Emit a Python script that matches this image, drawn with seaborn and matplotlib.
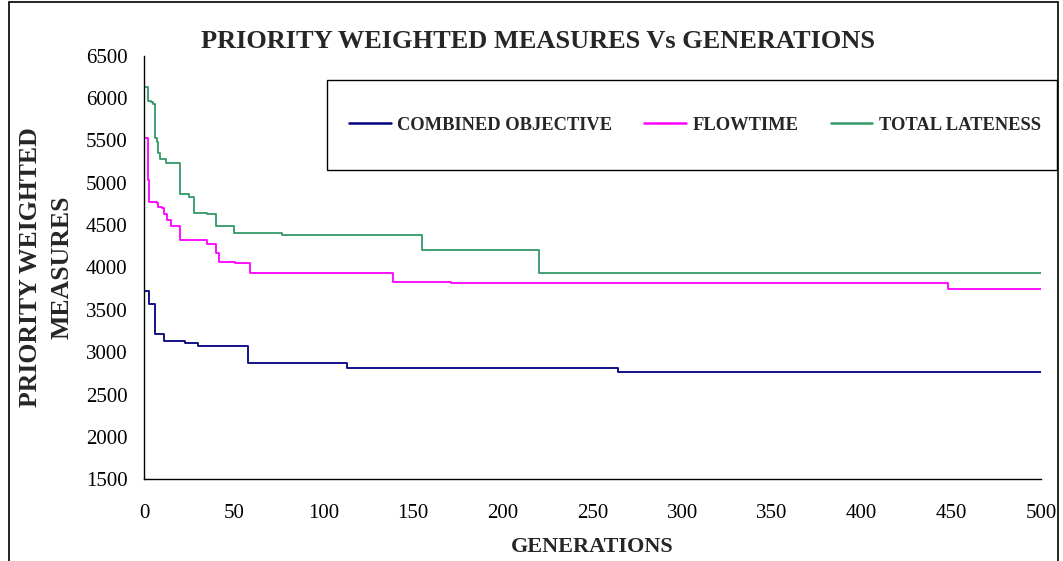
import numpy as np
import pandas as pd
import matplotlib
matplotlib.use("Agg")
import matplotlib.pyplot as plt
import seaborn as sns
from matplotlib.patches import Rectangle
from matplotlib.lines import Line2D

# ---- data (step change points) ----
combined_gen = [0, 3, 6, 11, 23, 30, 58, 113, 264, 500]
combined_val = [3726, 3569, 3212, 3132, 3112, 3073, 2872, 2815, 2770, 2770]

flow_gen = [0, 2, 3, 7, 8, 10, 11, 13, 15, 20, 35, 40, 42, 51, 59, 139, 171, 448, 500]
flow_val = [5525, 5033, 4770, 4758, 4720, 4699, 4628, 4561, 4493, 4325, 4274, 4168, 4068,
            4057, 3932, 3832, 3814, 3746, 3746]

late_gen = [0, 2, 4, 5, 6, 7, 8, 9, 12, 20, 25, 28, 35, 40, 50, 77, 155, 220, 500]
late_val = [6130, 5970, 5950, 5925, 5525, 5485, 5350, 5280, 5237, 4868, 4836, 4647, 4632,
            4493, 4411, 4387, 4207, 3932, 3932]

series_names = ["COMBINED OBJECTIVE", "FLOWTIME", "TOTAL LATENESS"]
series_colors = ["#000080", "#FF00FF", "#339966"]
x_ticks = list(range(0, 501, 50))
y_ticks = list(range(1500, 6501, 500))

sns.set_theme(style="white")
plt.rcParams["font.family"] = ["Liberation Serif", "DejaVu Serif"]

fig = plt.figure(figsize=(10.63, 5.61), dpi=100)
ax = fig.add_axes([144 / 1063, 1 - 479.3 / 561, (1041 - 144) / 1063, (479.3 - 55.7) / 561])

data = [(combined_gen, combined_val), (flow_gen, flow_val), (late_gen, late_val)]
for (g, v), name, col in zip(data, series_names, series_colors):
    df = pd.DataFrame({"gen": g, "val": v})
    sns.lineplot(data=df, x="gen", y="val", ax=ax, color=col, lw=1.3,
                 drawstyle="steps-post", estimator=None, sort=False)

ax.set_xlim(0, 500)
ax.set_ylim(1500, 6500)
ax.set_xticks(x_ticks)
ax.set_yticks(y_ticks)
ax.tick_params(axis="both", direction="out", length=5, width=1, color="black",
               labelsize=15, labelcolor="black")
ax.tick_params(axis="x", pad=13)
ax.tick_params(axis="y", pad=7)
for s in ["top", "right"]:
    ax.spines[s].set_visible(False)
for s in ["left", "bottom"]:
    ax.spines[s].set_color("black")
    ax.spines[s].set_linewidth(1)

ax.set_xlabel("GENERATIONS", fontsize=16, fontweight="bold", labelpad=10)
ax.set_ylabel("PRIORITY WEIGHTED\nMEASURES", fontsize=18.5, fontweight="bold",
              labelpad=9, linespacing=1.45)

fig.text(538 / 1063, 1 - 42 / 561, "PRIORITY WEIGHTED MEASURES Vs GENERATIONS",
         ha="center", va="center", fontsize=19, fontweight="bold")

# legend box
fig.patches.append(Rectangle((327 / 1063, 1 - 170 / 561), 730 / 1063, 90 / 561,
                             transform=fig.transFigure, fill=False, edgecolor="black", lw=1))
handles = [Line2D([0], [0], color=c, lw=1.8) for c in series_colors]
leg = fig.legend(handles, series_names, loc="center left",
                 bbox_to_anchor=(349 / 1063, 1 - 125 / 561),
                 ncol=3, frameon=False, borderpad=0, borderaxespad=0,
                 handlelength=2.25, handletextpad=0.35, columnspacing=1.75,
                 prop={"family": ["Liberation Serif"], "weight": "bold", "size": 13.3})

fig.patches.append(Rectangle((8.5 / 1063, -0.01), (1058 - 8.5) / 1063, 1 - 1.5 / 561 + 0.01,
                             transform=fig.transFigure, fill=False, edgecolor="black", lw=1.2))

fig.savefig("out.png", dpi=100)
